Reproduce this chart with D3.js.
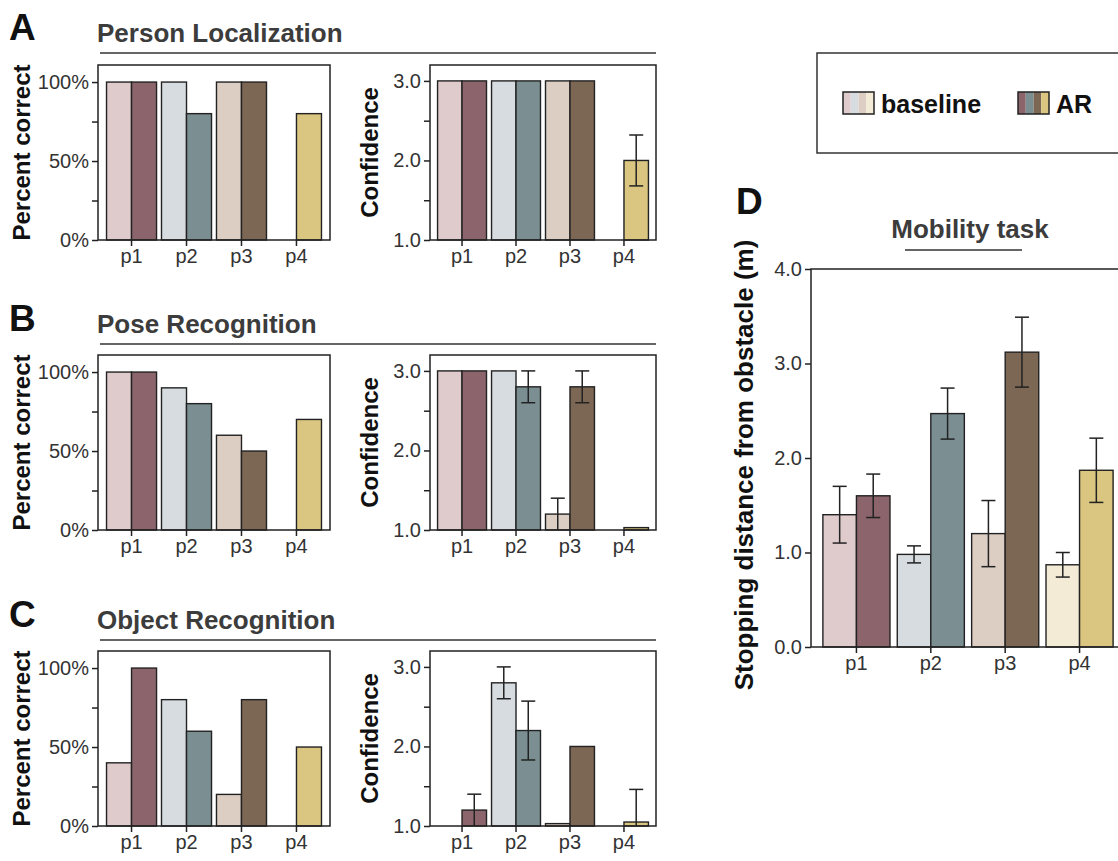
<!DOCTYPE html>
<html>
<head>
<meta charset="utf-8">
<title>AR study results</title>
<script src="https://d3js.org/d3.v7.min.js"></script>
<style>
  body { margin: 0; background: #fff; }
  svg { display: block; font-family: "Liberation Sans", Arial, sans-serif; }
</style>
</head>
<body>
<script>
var participants = ["p1", "p2", "p3", "p4"];

// A - person localization
var personPctBase = [100, 100, 100, null];
var personPctAR = [100, 80, 100, 80];
var personConfBase = [3, 3, 3, null];
var personConfAR = [3, 3, 3, 2.0];
var personConfBaseErr = [0, 0, 0, 0];
var personConfARErr = [0, 0, 0, 0.32];

// B - pose recognition
var posePctBase = [100, 90, 60, null];
var posePctAR = [100, 80, 50, 70];
var poseConfBase = [3, 3, 1.2, null];
var poseConfAR = [3, 2.8, 2.8, 1.03];
var poseConfBaseErr = [0, 0, 0.2, 0];
var poseConfARErr = [0, 0.2, 0.2, 0];

// C - object recognition
var objPctBase = [40, 80, 20, null];
var objPctAR = [100, 60, 80, 50];
var objConfBase = [null, 2.8, 1.03, null];
var objConfAR = [1.2, 2.2, 2.0, 1.05];
var objConfBaseErr = [0, 0.2, 0, 0];
var objConfARErr = [0.2, 0.37, 0, 0.41];

// D - mobility task (m)
var mobBase = [1.40, 0.98, 1.20, 0.87];
var mobAR = [1.60, 2.47, 3.12, 1.87];
var mobBaseErr = [0.30, 0.09, 0.35, 0.13];
var mobARErr = [0.23, 0.27, 0.37, 0.34];

var pctTicks = [0, 25, 50, 75, 100];
var confTicks = [1, 1.5, 2, 2.5, 3];
var mobTicks = [0, 1, 2, 3, 4];

var baseColors = ["#dfcacc", "#d6dcdf", "#ddcec4", "#f4ebd6"];
var arColors = ["#8b646c", "#7b8f93", "#7c6654", "#dac680"];

var ink = "#222";

var svg = d3.select("body").append("svg")
    .attr("width", 1118)
    .attr("height", 861);

function pctFormat(d) { return d % 50 === 0 ? d + "%" : ""; }
function confFormat(d) { return d % 1 === 0 ? d.toFixed(1) : ""; }

function drawPanel(o) {
  var x = d3.scaleBand()
      .domain(participants)
      .range([o.x0, o.x1])
      .paddingInner(o.inner)
      .paddingOuter(o.outer);
  var y = d3.scaleLinear()
      .domain(o.domain)
      .range([o.yBot, o.yTop]);
  var bw = x.bandwidth() / 2;
  var g = svg.append("g");

  var rows = participants.map(function(p, i) {
    return [
      {p: p, v: o.base[i], e: o.baseErr ? o.baseErr[i] : 0, off: 0, c: baseColors[i]},
      {p: p, v: o.ar[i], e: o.arErr ? o.arErr[i] : 0, off: bw, c: arColors[i]}
    ];
  });
  var bars = [].concat.apply([], rows).filter(function(d) { return d.v != null; });

  g.selectAll(".bar")
    .data(bars)
    .enter().append("rect")
      .attr("class", "bar")
      .attr("x", function(d) { return x(d.p) + d.off; })
      .attr("width", bw)
      .attr("y", function(d) { return y(d.v); })
      .attr("height", function(d) { return y(o.domain[0]) - y(d.v); })
      .attr("fill", function(d) { return d.c; })
      .attr("stroke", ink)
      .attr("stroke-width", 1.4);

  // error bars, clipped at the bottom of the axis
  var errs = bars.filter(function(d) { return d.e > 0; });
  var lo = o.domain[0];
  var eg = g.selectAll(".err")
    .data(errs)
    .enter().append("g")
      .attr("class", "err")
      .attr("stroke", ink)
      .attr("stroke-width", 1.5);
  eg.append("line")
      .attr("x1", function(d) { return x(d.p) + d.off + bw / 2; })
      .attr("x2", function(d) { return x(d.p) + d.off + bw / 2; })
      .attr("y1", function(d) { return y(d.v + d.e); })
      .attr("y2", function(d) { return y(Math.max(lo, d.v - d.e)); });
  eg.append("line")
      .attr("x1", function(d) { return x(d.p) + d.off + bw / 2 - o.cap; })
      .attr("x2", function(d) { return x(d.p) + d.off + bw / 2 + o.cap; })
      .attr("y1", function(d) { return y(d.v + d.e); })
      .attr("y2", function(d) { return y(d.v + d.e); });
  eg.filter(function(d) { return d.v - d.e > lo; })
    .append("line")
      .attr("x1", function(d) { return x(d.p) + d.off + bw / 2 - o.cap; })
      .attr("x2", function(d) { return x(d.p) + d.off + bw / 2 + o.cap; })
      .attr("y1", function(d) { return y(d.v - d.e); })
      .attr("y2", function(d) { return y(d.v - d.e); });

  // frame
  g.append("rect")
      .attr("x", o.x0)
      .attr("y", o.yTop)
      .attr("width", o.x1 - o.x0)
      .attr("height", o.yBot - o.yTop)
      .attr("fill", "none")
      .attr("stroke", ink)
      .attr("stroke-width", 1.5);

  var ya = g.append("g")
      .attr("transform", "translate(" + o.x0 + ",0)")
      .call(d3.axisLeft(y).tickValues(o.ticks).tickFormat(o.fmt).tickSize(6).tickPadding(3));
  var xa = g.append("g")
      .attr("transform", "translate(0," + o.yBot + ")")
      .call(d3.axisBottom(x).tickSize(6).tickPadding(3));
  [ya, xa].forEach(function(a) {
    a.select(".domain").remove();
    a.selectAll("line").attr("stroke", ink).attr("stroke-width", 1.5);
    a.selectAll("text")
      .attr("fill", "#333")
      .style("font-size", "20px")
      .style("font-family", "'Liberation Sans', Arial, sans-serif");
  });

  g.append("text")
      .attr("transform", "translate(" + o.titleX + "," + ((o.yTop + o.yBot) / 2 + (o.titleDy || 0)) + ") rotate(-90)")
      .attr("text-anchor", "middle")
      .attr("fill", "#111")
      .style("font-size", o.titleSize + "px")
      .style("font-weight", "bold")
      .text(o.title);
}

function section(letter, name, y0) {
  svg.append("text")
      .attr("x", 9).attr("y", y0 - 2)
      .style("font-size", "37px").style("font-weight", "bold")
      .attr("fill", "#111").text(letter);
  svg.append("text")
      .attr("x", 97).attr("y", y0)
      .style("font-size", "26px").style("font-weight", "bold")
      .attr("fill", "#3c3c3c").text(name);
  svg.append("line")
      .attr("x1", 100).attr("x2", 656)
      .attr("y1", y0 + 11).attr("y2", y0 + 11)
      .attr("stroke", "#333").attr("stroke-width", 1.5);
}

var sections = [
  {letter: "A", name: "Person Localization", y: 42, top: 65,
   pctB: personPctBase, pctA: personPctAR,
   confB: personConfBase, confA: personConfAR, confBE: personConfBaseErr, confAE: personConfARErr},
  {letter: "B", name: "Pose Recognition", y: 333, top: 355,
   pctB: posePctBase, pctA: posePctAR,
   confB: poseConfBase, confA: poseConfAR, confBE: poseConfBaseErr, confAE: poseConfARErr},
  {letter: "C", name: "Object Recognition", y: 629, top: 651,
   pctB: objPctBase, pctA: objPctAR,
   confB: objConfBase, confA: objConfAR, confBE: objConfBaseErr, confAE: objConfARErr}
];

sections.forEach(function(s) {
  section(s.letter, s.name, s.y);
  drawPanel({x0: 98, x1: 330, yTop: s.top, yBot: s.top + 175, domain: [0, 110.8],
    inner: 0.09, outer: 0.155, ticks: pctTicks, fmt: pctFormat,
    base: s.pctB, ar: s.pctA, cap: 7, title: "Percent correct", titleX: 30, titleSize: 24});
  drawPanel({x0: 430, x1: 656, yTop: s.top, yBot: s.top + 175, domain: [1, 3.2],
    inner: 0.093, outer: 0.14, ticks: confTicks, fmt: confFormat,
    base: s.confB, ar: s.confA, baseErr: s.confBE, arErr: s.confAE, cap: 7,
    title: "Confidence", titleX: 378, titleSize: 24});
});

// D
svg.append("text")
    .attr("x", 736).attr("y", 214)
    .style("font-size", "37px").style("font-weight", "bold")
    .attr("fill", "#111").text("D");
svg.append("text")
    .attr("x", 970).attr("y", 238)
    .attr("text-anchor", "middle")
    .style("font-size", "26px").style("font-weight", "bold")
    .attr("fill", "#3c3c3c").text("Mobility task");
svg.append("line")
    .attr("x1", 905).attr("x2", 1022)
    .attr("y1", 250).attr("y2", 250)
    .attr("stroke", "#333").attr("stroke-width", 1.5);

drawPanel({x0: 811, x1: 1125, yTop: 269, yBot: 647, domain: [0, 4],
  inner: 0.098, outer: 0.16, ticks: mobTicks, fmt: d3.format(".1f"),
  base: mobBase, ar: mobAR, baseErr: mobBaseErr, arErr: mobARErr, cap: 7,
  title: "Stopping distance from obstacle (m)", titleX: 753, titleDy: 7, titleSize: 26});

// legend
var leg = svg.append("g");
leg.append("rect")
    .attr("x", 817).attr("y", 53)
    .attr("width", 330).attr("height", 100)
    .attr("fill", "none").attr("stroke", "#333").attr("stroke-width", 1.5);

function swatch(x0, colors, label) {
  var sx = d3.scaleBand().domain(d3.range(colors.length)).range([x0, x0 + 31]);
  leg.selectAll(null)
    .data(colors)
    .enter().append("rect")
      .attr("x", function(d, i) { return sx(i); })
      .attr("y", 92)
      .attr("width", sx.bandwidth())
      .attr("height", 22)
      .attr("fill", function(d) { return d; });
  leg.append("rect")
      .attr("x", x0).attr("y", 92).attr("width", 31).attr("height", 22)
      .attr("fill", "none").attr("stroke", ink).attr("stroke-width", 1.5);
  leg.append("text")
      .attr("x", x0 + 38).attr("y", 113)
      .style("font-size", "25px").style("font-weight", "bold")
      .attr("fill", "#111").text(label);
}
swatch(843, baseColors, "baseline");
swatch(1018, arColors, "AR");
</script>
</body>
</html>
